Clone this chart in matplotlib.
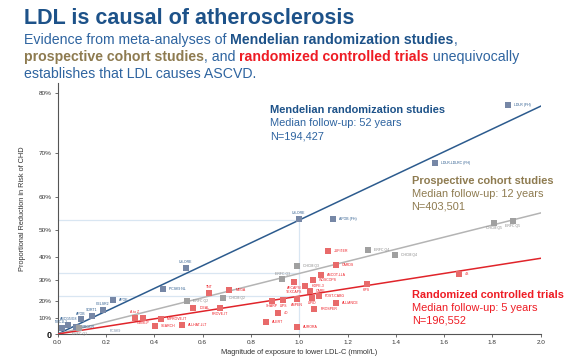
import numpy as np
import matplotlib
matplotlib.use("Agg")
import matplotlib.pyplot as plt

plt.rcParams['font.family'] = ['Liberation Sans', 'DejaVu Sans']

# ---------------- data ----------------
mr_names = ["LDLR (FH)", "LDLR-LDLRC (FH)", "US-ORE", "APOB (FH)", "US-ORE", "PCSK9 NL",
            "APOE", "CELSR2", "SORT1", "APOB", "ABCG5/G8", "NPC1L1", "HMGCR"]
mr_x = [1.866, 1.562, 0.999, 1.139, 0.53, 0.435, 0.228, 0.186, 0.141, 0.096, 0.044, 0.017, 0.075]
mr_red = [78.2, 68.0, 53.5, 53.5, 35.5, 25.8, 20.3, 14.8, 11.5, 9.3, 5.8, 3.8, 4.8]
mr_pos = ['r', 'r', 'a', 'r', 'a', 'r', 'r', 'a', 'a', 'a', 'a', 'a', 'r']

co_names = ["ERFC Q1", "ERFC Q2", "CHCM Q2", "ERFC Q3", "CHCM Q3", "ERFC Q4", "CHCM Q4", "CHCM Q5", "ERFC Q5"]
co_x = [0.09, 0.534, 0.686, 0.93, 0.99, 1.286, 1.398, 1.808, 1.884]
co_red = [4.0, 19.7, 21.2, 30.5, 36.6, 42.9, 41.1, 52.4, 53.0]
co_pos = ['b', 'r', 'r', 'a', 'r', 'r', 'r', 'b', 'b']

rct_names = ["A to Z", "GISSI-P", "SEARCH", "IMPROVE-IT", "ALLHAT-LLT", "IDEAL", "TNT", "PROVE-IT",
             "MEGA", "ALERT", "SHARP", "4D", "LIPS", "AFCAPS/\nTEXCAPS", "AURORA", "ASPEN", "HOPE-3",
             "CARE", "LIPID", "WOSCOPS", "PROSPER", "POST-CABG", "ASCOT-LLA", "JUPITER",
             "ALLIANCE", "CARDS", "HPS", "4S"]
rct_x = [0.32, 0.353, 0.401, 0.428, 0.516, 0.562, 0.628, 0.672, 0.711, 0.861, 0.886, 0.911,
         0.934, 0.98, 0.99, 0.991, 1.025, 1.045, 1.054, 1.056, 1.063, 1.082, 1.089, 1.118,
         1.151, 1.152, 1.279, 1.66]
rct_red = [10.3, 10.3, 5.2, 9.5, 5.8, 15.7, 23.8, 15.9, 25.3, 7.5, 19.9, 13.2, 20.3, 29.3,
           4.7, 20.6, 27.5, 25.1, 21.5, 30.1, 15.4, 22.6, 32.4, 42.6, 18.8, 36.7, 28.2, 33.0]
rct_pos = ['a', 'b', 'r', 'r', 'r', 'r', 'a', 'b', 'r', 'r', 'b', 'r', 'b', 'b', 'r', 'b', 'r',
           'r', 'b', 'r', 'r', 'r', 'r', 'r', 'r', 'r', 'b', 'r']

# fitted effect per 1 mmol/L lower LDL-C (% reduction)
fit_names = ["Mendelian randomization", "Prospective cohort", "Randomized trials"]
fit_red_per_mmol = [53.2, 33.2, 22.3]
fit_x = [0.0, 2.0]

y_ticks_pct = [0, 10, 20, 30, 40, 50, 60, 70, 80]
y_tick_labels = ["0", "10%", "20%", "30%", "40%", "50%", "60%", "70%", "80%"]
x_ticks = [0.0, 0.2, 0.4, 0.6, 0.8, 1.0, 1.2, 1.4, 1.6, 1.8, 2.0]


def tr(p):
    """proportional reduction (%) -> -log(1 - r) scale used on the chart"""
    return -np.log(1 - np.asarray(p, dtype=float) / 100.0)


# ---------------- colours ----------------
C_BLUE_LINE = "#2c5b8e"
C_BLUE_MK = "#7687a6"
C_GRAY_LINE = "#b4b4b4"
C_GRAY_MK = "#a0a0a0"
C_RED_LINE = "#e0242a"
C_RED_MK = "#e86a6a"
C_REF = "#d9e6f2"
C_TITLE = "#1d5289"
C_SUB = "#2e64a0"
C_TAN = "#8e7b50"
C_RED_TXT = "#ee1c24"

fig = plt.figure(figsize=(5.67, 3.59), dpi=100)
ax = fig.add_axes([57.7 / 567, 1 - 334 / 359, (540.7 - 57.7) / 567, (334 - 83) / 359])

ymax = 1.673
ax.set_xlim(0, 2.0)
ax.set_ylim(0, ymax)

# reference lines at x = 1
for r in fit_red_per_mmol:
    ax.plot([0, 1.0], [tr(r), tr(r)], color=C_REF, lw=0.9, zorder=1)
ax.plot([1.0, 1.0], [0, tr(fit_red_per_mmol[0])], color=C_REF, lw=0.9, zorder=1)

# fitted lines (straight on the log scale, through origin)
for r, c in zip(fit_red_per_mmol, [C_BLUE_LINE, C_GRAY_LINE, C_RED_LINE]):
    slope = tr(r)
    ax.plot(fit_x, [slope * x for x in fit_x], color=c, lw=1.1, zorder=3)

# points
ms = 20
ax.scatter(mr_x, tr(mr_red), s=ms, marker='s', color=C_BLUE_MK, zorder=4, linewidths=0)
ax.scatter(co_x, tr(co_red), s=ms, marker='s', color=C_GRAY_MK, zorder=4, linewidths=0)
ax.scatter(rct_x, tr(rct_red), s=ms, marker='s', color=C_RED_MK, zorder=4, linewidths=0)

lab_fs = 2.5


def put_labels(names, xs, ys, poss, color):
    for n, x, y, p in zip(names, xs, ys, poss):
        if p == 'r':
            ax.text(x + 0.025, y, n, fontsize=lab_fs, color=color, ha='left', va='center')
        elif p == 'b':
            ax.text(x, y - 0.025, n, fontsize=lab_fs, color=color, ha='center', va='top',
                    linespacing=1.0)
        else:
            ax.text(x, y + 0.025, n, fontsize=lab_fs, color=color, ha='center', va='bottom')


put_labels(mr_names, mr_x, tr(mr_red), mr_pos, C_BLUE_LINE)
put_labels(co_names, co_x, tr(co_red), co_pos, "#8a8a8a")
put_labels(rct_names, rct_x, tr(rct_red), rct_pos, C_RED_TXT)
ax.text(0.24, 0.018, "PCSK9", fontsize=lab_fs, color=C_BLUE_MK, ha='center', va='center')

# axes styling
for s in ['top', 'right']:
    ax.spines[s].set_visible(False)
for s in ['left', 'bottom']:
    ax.spines[s].set_color("#555555")
    ax.spines[s].set_linewidth(0.8)
ax.set_yticks(tr(y_ticks_pct))
ax.set_yticklabels(y_tick_labels)
ax.set_xticks(x_ticks)
ax.set_xticklabels([f"{v:.1f}" for v in x_ticks])
ax.tick_params(axis='both', labelsize=4.6, colors="#555555", length=2.5, width=0.6,
               labelcolor="#333333", pad=2)
ax.get_yticklabels()[0].set_fontsize(6.5)
ax.get_yticklabels()[0].set_fontweight('bold')
ax.get_yticklabels()[0].set_color('#111111')
ax.set_xlabel("Magnitude of exposure to lower LDL-C (mmol/L)", fontsize=5.3, color="#333333",
              labelpad=3)
ax.set_ylabel("Proportional Reduction in Risk of CHD", fontsize=5.3, color="#333333",
              labelpad=9)

# ---------------- slide texts ----------------
W, H = 567.0, 359.0


def rich_line(x_px, y_px, parts, fs):
    renderer = fig.canvas.get_renderer()
    x = x_px
    for txt, col, wt in parts:
        t = fig.text(x / W, 1 - y_px / H, txt, fontsize=fs, color=col, fontweight=wt,
                     ha='left', va='center')
        bb = t.get_window_extent(renderer=renderer)
        x += bb.width


fig.text(24 / W, 1 - 19 / H, "LDL is causal of atherosclerosis", fontsize=15.5,
         fontweight='bold', color=C_TITLE, ha='left', va='center')
sfs = 10.2
rich_line(24, 40, [("Evidence from meta-analyses of ", C_SUB, 'normal'),
                   ("Mendelian randomization studies", C_TITLE, 'bold'),
                   (",", C_SUB, 'normal')], sfs)
rich_line(24, 57, [("prospective cohort studies", C_TAN, 'bold'),
                   (", and ", C_SUB, 'normal'),
                   ("randomized controlled trials", C_RED_TXT, 'bold'),
                   (" unequivocally", C_SUB, 'normal')], sfs)
rich_line(24, 74, [("establishes that LDL causes ASCVD.", C_SUB, 'normal')], sfs)

bfs = 7.9
nfs = 7.9
fig.text(270.5 / W, 1 - 110 / H, "Mendelian randomization studies", fontsize=bfs, fontweight='bold',
         color=C_TITLE, ha='left', va='center')
fig.text(270.5 / W, 1 - 123 / H, "Median follow-up: 52 years", fontsize=nfs, color=C_SUB,
         ha='left', va='center')
fig.text(270.5 / W, 1 - 136 / H, "N=194,427", fontsize=nfs, color=C_SUB, ha='left', va='center')

fig.text(411.5 / W, 1 - 181 / H, "Prospective cohort studies", fontsize=bfs, fontweight='bold',
         color=C_TAN, ha='left', va='center')
fig.text(411.5 / W, 1 - 194 / H, "Median follow-up: 12 years", fontsize=nfs, color=C_TAN,
         ha='left', va='center')
fig.text(411.5 / W, 1 - 207 / H, "N=403,501", fontsize=nfs, color=C_TAN, ha='left', va='center')

fig.text(412.5 / W, 1 - 294.5 / H, "Randomized controlled trials", fontsize=bfs, fontweight='bold',
         color=C_RED_TXT, ha='left', va='center')
fig.text(412.5 / W, 1 - 308 / H, "Median follow-up: 5 years", fontsize=nfs, color=C_RED_TXT,
         ha='left', va='center')
fig.text(412.5 / W, 1 - 320.5 / H, "N=196,552", fontsize=nfs, color=C_RED_TXT, ha='left',
         va='center')

fig.savefig("out.png", dpi=100)
